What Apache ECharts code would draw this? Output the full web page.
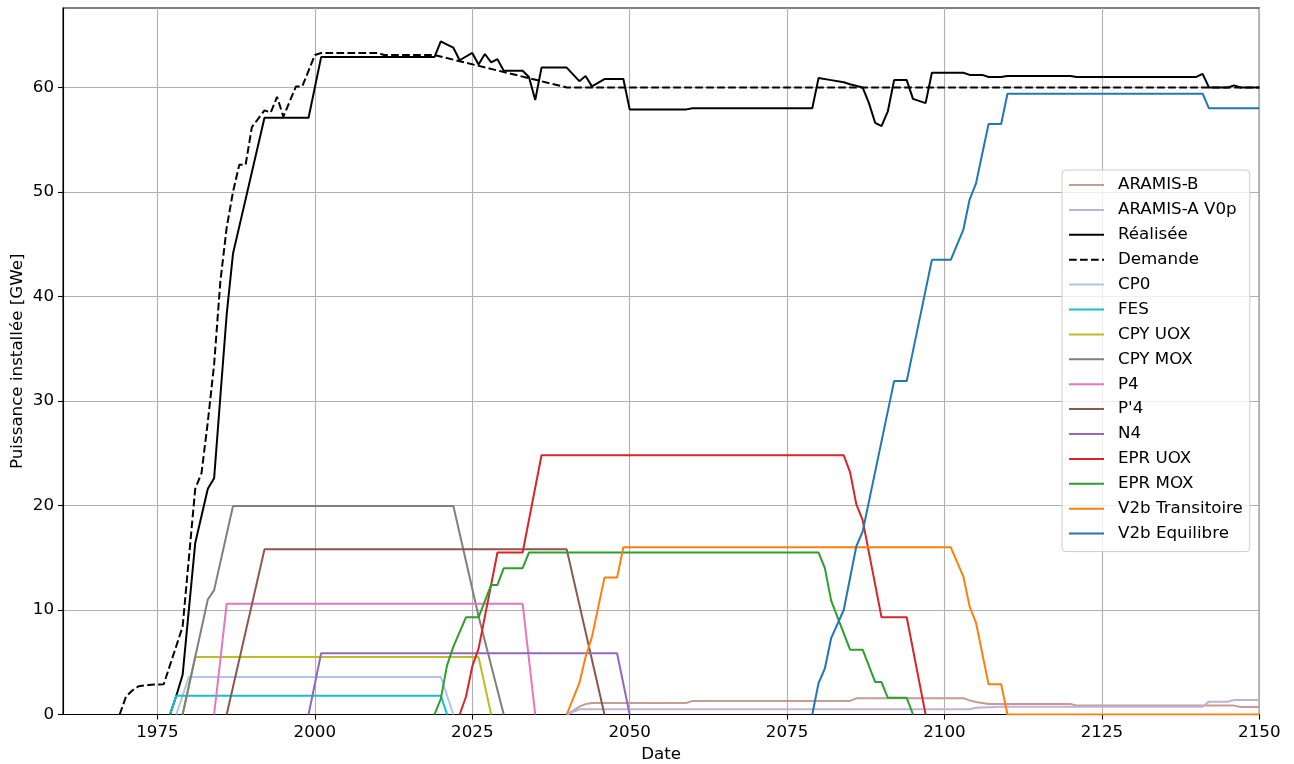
<!DOCTYPE html>
<html>
<head>
<meta charset="utf-8">
<script src="https://cdn.jsdelivr.net/npm/echarts@6/dist/echarts.min.js"></script>
<style>
html,body{margin:0;padding:0;background:#fff;}
#chart{width:1294px;height:764px;}
</style>
</head>
<body>
<div id="chart"></div>
<script>
// ---- data: [year, GWe] breakpoints ----
const xTicks = [1975, 2000, 2025, 2050, 2075, 2100, 2125, 2150];
const yTicks = [0, 10, 20, 30, 40, 50, 60];

const seriesNames = ['ARAMIS-B','ARAMIS-A V0p','Réalisée','Demande','CP0','FES','CPY UOX','CPY MOX','P4',"P'4",'N4','EPR UOX','EPR MOX','V2b Transitoire','V2b Equilibre'];

const aramisB = [[2040,0],[2041,0.35],[2042,0.75],[2043,1.0],[2044,1.1],[2059,1.1],[2060,1.3],[2085,1.3],[2086,1.55],[2103,1.55],[2104,1.35],[2105,1.2],[2106,1.1],[2107,1.0],[2120,1.0],[2121,0.85],[2146,0.85],[2147,0.72],[2150,0.72]];
const aramisA = [[2040,0],[2042,0.5],[2104,0.5],[2105,0.65],[2109,0.75],[2141,0.75],[2142,1.23],[2145,1.23],[2146,1.39],[2150,1.39]];
const realisee = [[1977,0],[1978,1.8],[1979,3.8],[1981,16.4],[1983,21.6],[1984,22.6],[1985,30.5],[1986,38.3],[1987,44.1],[1992,57.1],[1999,57.1],[2001,62.9],[2019,62.9],[2020,64.4],[2021,64.1],[2022,63.8],[2023,62.6],[2025,63.3],[2026,62.2],[2027,63.2],[2028,62.4],[2029,62.7],[2030,61.6],[2033,61.6],[2034,61.0],[2035,58.8],[2036,61.9],[2040,61.9],[2042,60.6],[2043,61.1],[2044,60.1],[2046,60.8],[2049,60.8],[2050,57.9],[2059,57.9],[2060,58.0],[2079,58.0],[2080,60.9],[2082,60.7],[2084,60.5],[2085,60.3],[2087,60.0],[2088,58.5],[2089,56.6],[2090,56.3],[2091,57.7],[2092,60.7],[2094,60.7],[2095,58.9],[2097,58.5],[2098,61.4],[2103,61.4],[2104,61.2],[2106,61.2],[2107,61.0],[2109,61.0],[2110,61.1],[2120,61.1],[2121,61.0],[2140,61.0],[2141,61.3],[2142,60.0],[2145,60.0],[2146,60.2],[2147,60.0],[2150,60.0]];
const demande = [[1969,0],[1970,1.7],[1971,2.3],[1972,2.7],[1974,2.85],[1976,2.9],[1979,8.4],[1981,21.6],[1982,23.1],[1983,28.0],[1984,33.5],[1985,41.5],[1986,46.6],[1987,50.0],[1988,52.6],[1989,52.6],[1990,56.2],[1992,57.8],[1993,57.6],[1994,59.1],[1995,57.2],[1997,60.1],[1998,60.1],[2000,63.1],[2001,63.3],[2010,63.3],[2011,63.1],[2019,63.1],[2040,60.0],[2150,60.0]];
const cp0 = [[1978,0],[1980,3.6],[2020,3.6],[2022,0]];
const fes = [[1977,0],[1978,1.8],[2020,1.8],[2021,0]];
const cpyUox = [[1979,0],[1981,5.5],[2026,5.5],[2028,0]];
const cpyMox = [[1979,0],[1983,11.0],[1984,11.9],[1987,19.95],[2022,19.95],[2026,9.4],[2030,0]];
const p4 = [[1984,0],[1986,10.6],[2033,10.6],[2035,0]];
const p4p = [[1986,0],[1992,15.8],[2040,15.8],[2046,0]];
const n4 = [[1999,0],[2001,5.86],[2048,5.86],[2050,0]];
const eprUox = [[2023,0],[2024,1.7],[2025,4.6],[2026,6.3],[2029,15.5],[2033,15.5],[2036,24.8],[2084,24.8],[2085,23.2],[2086,20.1],[2087,18.6],[2090,9.3],[2094,9.3],[2097,0]];
const eprMox = [[2019,0],[2020,1.5],[2021,4.7],[2022,6.5],[2024,9.3],[2026,9.3],[2028,12.4],[2029,12.4],[2030,14.0],[2033,14.0],[2034,15.5],[2080,15.5],[2081,14.0],[2082,10.9],[2085,6.2],[2087,6.2],[2089,3.1],[2090,3.1],[2091,1.6],[2094,1.6],[2095,0]];
const v2bT = [[2040,0],[2042,3.0],[2043,5.5],[2044,7.4],[2046,13.1],[2048,13.1],[2049,16.0],[2101,16.0],[2103,13.2],[2104,10.3],[2105,8.8],[2107,2.9],[2109,2.9],[2110,0],[2150,0]];
const v2bE = [[2079,0],[2080,3.0],[2081,4.4],[2082,7.3],[2084,10.0],[2086,16.1],[2087,17.5],[2092,31.9],[2094,31.9],[2098,43.5],[2101,43.5],[2103,46.4],[2104,49.3],[2105,50.8],[2107,56.5],[2109,56.5],[2110,59.4],[2141,59.4],[2142,58.0],[2150,58.0]];

const seriesData = [aramisB, aramisA, realisee, demande, cp0, fes, cpyUox, cpyMox, p4, p4p, n4, eprUox, eprMox, v2bT, v2bE];
const colors = ['#c49c94','#c5b0d5','#000000','#000000','#aec7e8','#17becf','#bcbd22','#7f7f7f','#e377c2','#8c564b','#9467bd','#d62728','#2ca02c','#ff7f0e','#1f77b4'];

const FONT = 'DejaVu Sans';
const FS = 16.7;

const chart = echarts.init(document.getElementById('chart'), null, {renderer:'canvas'});

const series = seriesNames.map((name, i) => ({
  name: name,
  type: 'line',
  data: seriesData[i],
  symbol: 'none',
  silent: true,
  animation: false,
  lineStyle: { color: colors[i], width: 2, type: name === 'Demande' ? [7.7, 3.3] : 'solid' },
  itemStyle: { color: colors[i] }
}));

chart.setOption({
  animation: false,
  backgroundColor: '#ffffff',
  grid: { left: 63, right: 34.7, top: 8, bottom: 49.5, show: true, borderColor: '#000', borderWidth: 1.1, backgroundColor: 'transparent', containLabel: false, outerBoundsMode: 'none' },
  xAxis: {
    type: 'value', min: 1960, max: 2150,
    name: 'Date', nameLocation: 'middle', nameGap: 31,
    nameTextStyle: { fontFamily: FONT, fontSize: FS, color: '#000' },
    axisLine: { show: true, onZero: false, lineStyle: { color: '#000', width: 1.1 } },
    axisTick: { show: true, length: 5, lineStyle: { color: '#000', width: 1.1 }, customValues: xTicks },
    axisLabel: { fontFamily: FONT, fontSize: FS, color: '#000', margin: 10, customValues: xTicks, formatter: v => String(v) },
    splitLine: { show: true, lineStyle: { color: '#b0b0b0', width: 1.1 } }
  },
  yAxis: {
    type: 'value', min: 0, max: 67.6,
    name: 'Puissance installée [GWe]', nameLocation: 'middle', nameGap: 37, nameRotate: 90,
    nameMoveOverlap: false,
    nameTextStyle: { fontFamily: FONT, fontSize: FS, color: '#000' },
    axisLine: { show: true, onZero: false, lineStyle: { color: '#000', width: 1.1 } },
    axisTick: { show: true, length: 5, lineStyle: { color: '#000', width: 1.1 }, customValues: yTicks },
    axisLabel: { fontFamily: FONT, fontSize: FS, color: '#000', margin: 9, customValues: yTicks, formatter: v => String(v) },
    splitLine: { show: true, lineStyle: { color: '#b0b0b0', width: 1.1 } }
  },
  legend: {
    show: true, orient: 'vertical', left: 1062, top: 170,
    data: seriesNames,
    selectedMode: false,
    itemWidth: 35, itemHeight: 17, itemGap: 7.9,
    itemStyle: { opacity: 0 },
    padding: [6.5, 7, 9.5, 6],
    backgroundColor: 'rgba(255,255,255,0.8)', borderColor: '#cccccc', borderWidth: 1, borderRadius: 4,
    textStyle: { fontFamily: FONT, fontSize: FS, color: '#000', padding: [0,0,0,9], lineHeight: 17 }
  },
  series: series
});
</script>
</body>
</html>
